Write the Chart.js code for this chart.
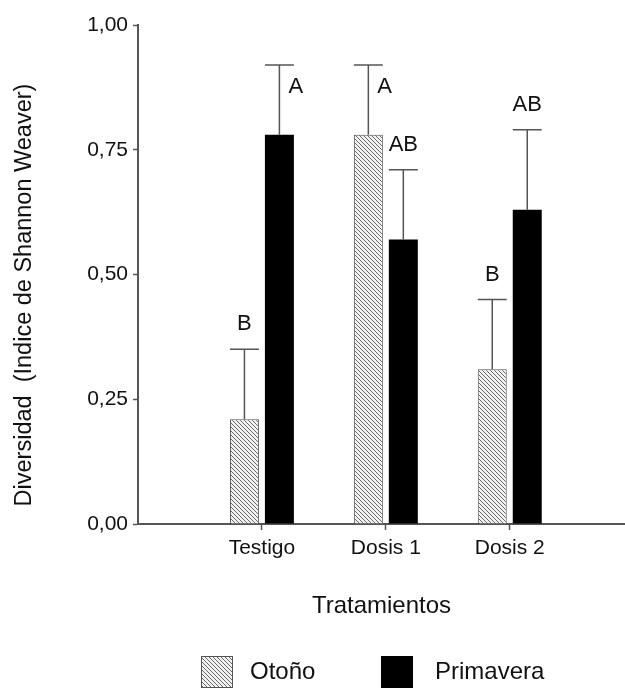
<!DOCTYPE html>
<html>
<head>
<meta charset="utf-8">
<script src="https://cdn.jsdelivr.net/npm/chart.js@4.4.1/dist/chart.umd.min.js"></script>
<style>
  body { margin: 0; background: #fff; }
  #wrap { width: 625px; height: 689px; position: relative; }
</style>
</head>
<body>
<div id="wrap"><canvas id="chart"></canvas></div>
<script>
// datos
const categories = ["Testigo", "Dosis 1", "Dosis 2"];
const otono = [0.21, 0.78, 0.31];
const primavera = [0.78, 0.57, 0.63];
const otonoErr = [0.14, 0.14, 0.14];
const primaveraErr = [0.14, 0.14, 0.16];
const otonoLetters = ["B", "A", "B"];
const primaveraLetters = ["A", "AB", "AB"];
const yTicks = [0, 0.25, 0.5, 0.75, 1];

const FONT = "'Liberation Sans', Arial, sans-serif";
const AXIS = "#555555";
const INK = "#111111";

// trama diagonal para Otoño
function makeHatch() {
  const s = 4;
  const c = document.createElement("canvas");
  c.width = s;
  c.height = s;
  const g = c.getContext("2d");
  g.fillStyle = "#f2f2f2";
  g.fillRect(0, 0, s, s);
  g.strokeStyle = "#6a6a6a";
  g.lineWidth = 1;
  g.beginPath();
  g.moveTo(0, 0); g.lineTo(s, s);
  g.moveTo(-1, s - 1); g.lineTo(1, s + 1);
  g.moveTo(s - 1, -1); g.lineTo(s + 1, 1);
  g.stroke();
  return g.createPattern(c, "repeat");
}
const hatch = makeHatch();

const toPoints = (arr) => arr.map((v, i) => ({ x: i + 1, y: v }));

// barras de error, letras, título Y y leyenda
const extras = {
  id: "extras",
  afterDatasetsDraw(chart) {
    const ctx = chart.ctx;
    const yScale = chart.scales.y;
    chart.data.datasets.forEach((ds, d) => {
      const meta = chart.getDatasetMeta(d);
      meta.data.forEach((bar, i) => {
        const top = ds.data[i].y + ds.errors[i];
        const yTop = yScale.getPixelForValue(top);
        const half = bar.width / 2;
        ctx.save();
        ctx.strokeStyle = AXIS;
        ctx.lineWidth = 1.5;
        ctx.beginPath();
        ctx.moveTo(bar.x, bar.y);
        ctx.lineTo(bar.x, yTop);
        ctx.moveTo(bar.x - half, yTop);
        ctx.lineTo(bar.x + half, yTop);
        ctx.stroke();

        ctx.fillStyle = INK;
        ctx.font = "22px " + FONT;
        ctx.textBaseline = "middle";
        // si no cabe encima, la letra va al lado de la barra de error
        if (top > 0.85) {
          ctx.textAlign = "left";
          ctx.fillText(ds.letters[i], bar.x + 9, yTop + 22);
        } else {
          ctx.textAlign = "center";
          ctx.fillText(ds.letters[i], bar.x, yTop - 25);
        }
        ctx.restore();
      });
    });
  },
  afterDraw(chart) {
    const ctx = chart.ctx;
    ctx.save();
    ctx.fillStyle = INK;
    ctx.font = "23.5px " + FONT;
    ctx.textBaseline = "middle";
    ctx.textAlign = "center";
    ctx.translate(25, 295);
    ctx.rotate(-Math.PI / 2);
    ctx.fillText("Diversidad  (Indice de Shannon Weaver)", 0, 0);
    ctx.restore();

    // leyenda
    const items = [
      { box: 201, text: 250 },
      { box: 381, text: 435 },
    ];
    ctx.save();
    chart.data.datasets.forEach((ds, d) => {
      const it = items[d];
      ctx.fillStyle = ds.backgroundColor;
      ctx.fillRect(it.box, 656, 32, 32);
      ctx.strokeStyle = ds.borderColor;
      ctx.lineWidth = 1;
      ctx.strokeRect(it.box + 0.5, 656.5, 31, 31);
      ctx.fillStyle = INK;
      ctx.font = "24px " + FONT;
      ctx.textAlign = "left";
      ctx.textBaseline = "middle";
      ctx.fillText(ds.label, it.text, 672);
    });
    ctx.restore();
  },
};

new Chart(document.getElementById("chart"), {
  type: "bar",
  data: {
    datasets: [
      {
        label: "Otoño",
        data: toPoints(otono),
        errors: otonoErr,
        letters: otonoLetters,
        backgroundColor: hatch,
        borderColor: "#555555",
        borderWidth: 1,
      },
      {
        label: "Primavera",
        data: toPoints(primavera),
        errors: primaveraErr,
        letters: primaveraLetters,
        backgroundColor: "#000000",
        borderColor: "#000000",
        borderWidth: 0,
      },
    ],
  },
  options: {
    responsive: true,
    maintainAspectRatio: false,
    animation: false,
    categoryPercentage: 70 / 124,
    barPercentage: 29 / 35,
    layout: { padding: { top: 25, right: 0, bottom: 0, left: 0 } },
    plugins: {
      legend: { display: false },
      tooltip: { enabled: false },
    },
    scales: {
      x: {
        type: "linear",
        min: 0,
        max: 3.93,
        offset: false,
        afterBuildTicks: (scale) => {
          scale.ticks = categories.map((c, i) => ({ value: i + 1 }));
        },
        afterFit: (scale) => {
          scale.height = 165;
        },
        ticks: {
          autoSkip: false,
          maxRotation: 0,
          padding: 6,
          color: INK,
          font: { family: FONT, size: 21 },
          callback: (v) => categories[v - 1] || "",
        },
        grid: {
          offset: false,
          drawOnChartArea: false,
          tickLength: 6,
          tickWidth: 1.5,
          tickColor: AXIS,
        },
        border: { color: AXIS, width: 2 },
        title: {
          display: true,
          text: "Tratamientos",
          color: INK,
          font: { family: FONT, size: 24 },
          padding: { top: 0, bottom: 68 },
        },
      },
      y: {
        min: 0,
        max: 1,
        afterBuildTicks: (scale) => {
          scale.ticks = yTicks.map((v) => ({ value: v }));
        },
        afterFit: (scale) => {
          scale.width = 138;
        },
        ticks: {
          padding: 5,
          color: INK,
          font: { family: FONT, size: 21 },
          callback: (v) => v.toFixed(2).replace(".", ","),
        },
        grid: {
          drawOnChartArea: false,
          tickLength: 5,
          tickWidth: 1.5,
          tickColor: AXIS,
        },
        border: { color: AXIS, width: 2 },
      },
    },
  },
  plugins: [extras],
});
</script>
</body>
</html>
